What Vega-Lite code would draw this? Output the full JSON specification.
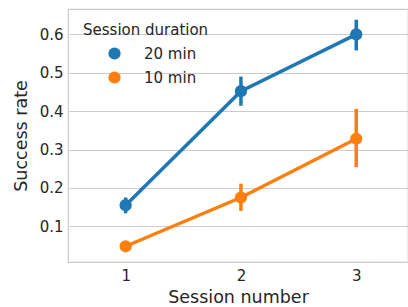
{
  "$schema": "https://vega.github.io/schema/vega-lite/v6.json",
  "width": 340,
  "height": 253,
  "autosize": "none",
  "padding": {"left": 68, "top": 9, "right": 0, "bottom": 45},
  "background": "white",
  "config": {
    "font": "DejaVu Sans",
    "view": {"stroke": "#cccccc", "strokeWidth": 1.25},
    "axis": {
      "domain": false,
      "ticks": false,
      "labelFontSize": 15,
      "labelColor": "#262626",
      "titleFontSize": 17.5,
      "titleFontWeight": "normal",
      "titleColor": "#262626",
      "gridColor": "#cccccc",
      "gridWidth": 1
    },
    "legend": {
      "titleFontSize": 15,
      "titleFontWeight": "normal",
      "titleColor": "#262626",
      "labelFontSize": 15,
      "labelColor": "#262626"
    }
  },
  "data": {
    "values": [
      {"session": 1, "duration": "20 min", "rate": 0.155, "lo": 0.134, "hi": 0.175},
      {"session": 2, "duration": "20 min", "rate": 0.452, "lo": 0.414, "hi": 0.490},
      {"session": 3, "duration": "20 min", "rate": 0.600, "lo": 0.558, "hi": 0.638},
      {"session": 1, "duration": "10 min", "rate": 0.048, "lo": 0.045, "hi": 0.052},
      {"session": 2, "duration": "10 min", "rate": 0.175, "lo": 0.140, "hi": 0.211},
      {"session": 3, "duration": "10 min", "rate": 0.328, "lo": 0.254, "hi": 0.406}
    ]
  },
  "encoding": {
    "x": {
      "field": "session",
      "type": "quantitative",
      "scale": {"domain": [0.5, 3.449], "nice": false, "zero": false},
      "axis": {"values": [1, 2, 3], "format": "d", "grid": false, "labelPadding": 6, "titlePadding": 5, "title": "Session number"}
    },
    "color": {
      "field": "duration",
      "type": "nominal",
      "scale": {"domain": ["20 min", "10 min"], "range": ["#1f77b4", "#ff7f0e"]},
      "legend": {
        "title": "Session duration",
        "orient": "none",
        "legendX": 15,
        "legendY": 14,
        "padding": 0,
        "symbolType": "circle",
        "symbolSize": 150,
        "symbolOpacity": 1,
        "symbolStrokeWidth": 0,
        "symbolOffset": 24,
        "labelOffset": 22,
        "rowPadding": 8,
        "titlePadding": 8
      }
    }
  },
  "layer": [
    {
      "mark": {"type": "rule", "strokeWidth": 3.5},
      "encoding": {
        "y": {
          "field": "lo",
          "type": "quantitative",
          "scale": {"domain": [0.007, 0.666], "nice": false, "zero": false},
          "axis": {"values": [0.1, 0.2, 0.3, 0.4, 0.5, 0.6], "format": ".1f", "grid": true, "labelPadding": 5, "titlePadding": 9, "title": "Success rate"}
        },
        "y2": {"field": "hi"}
      }
    },
    {
      "mark": {"type": "line", "strokeWidth": 3.5},
      "encoding": {"y": {"field": "rate", "type": "quantitative"}}
    },
    {
      "mark": {"type": "point", "filled": true, "size": 150, "opacity": 1},
      "encoding": {"y": {"field": "rate", "type": "quantitative"}}
    }
  ]
}
